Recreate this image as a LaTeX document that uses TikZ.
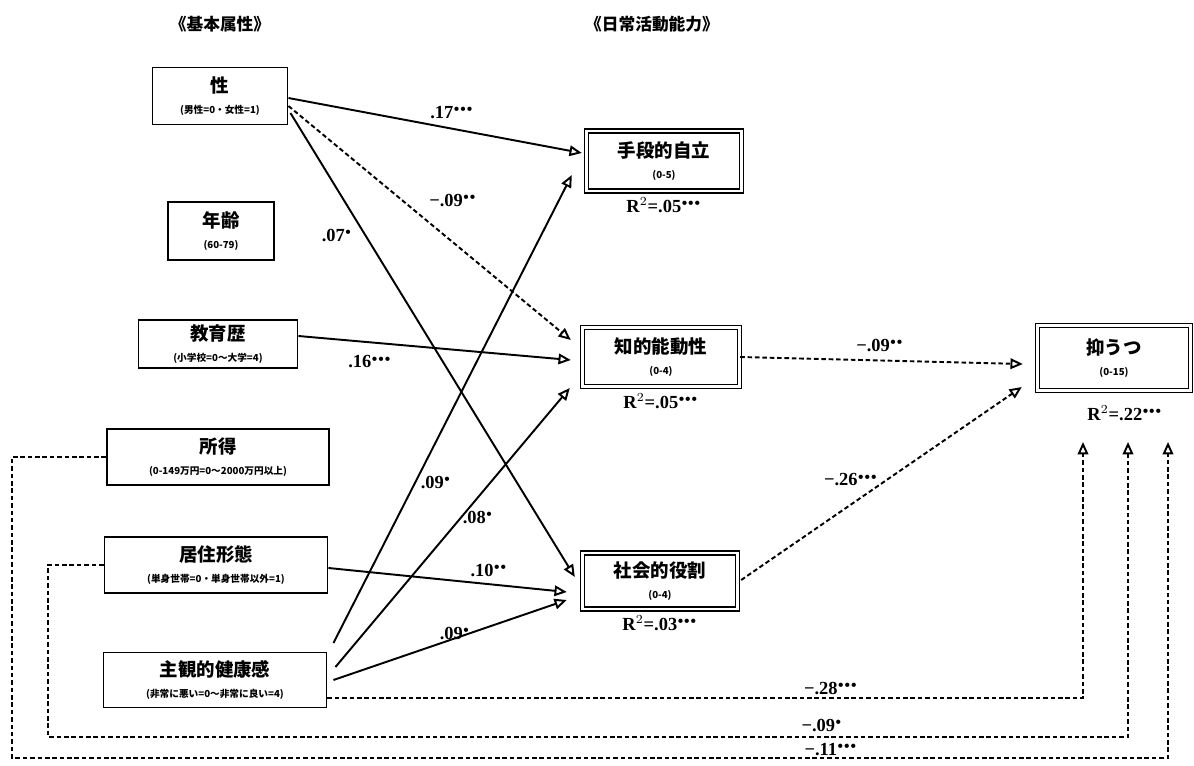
\documentclass[tikz,border=0pt]{standalone}
\usepackage{fontspec}
\setmainfont{Liberation Serif}
\newfontfamily\jp{Noto Sans CJK JP}
\usetikzlibrary{arrows.meta,calc}

\tikzstyle{attr} = [rectangle, draw=black, line width=1.1pt, align=center, inner sep=1pt, font=\jp]
\tikzstyle{adl} = [rectangle, draw=black, double, double distance=1.6pt, line width=0.8pt, align=center, inner sep=1pt, font=\jp]
\tikzstyle{arrow} = [line width=1.1pt, ->, >={Triangle[open,length=7pt,width=6pt]}]
\tikzstyle{darrow} = [arrow, dash pattern=on 2.6pt off 1.6pt]
\tikzstyle{coef} = [font=\bfseries\fontsize{10.5}{12}\selectfont, inner sep=0pt]
\tikzstyle{heading} = [font=\jp\bfseries\fontsize{9.5}{11}\selectfont]

\newcommand{\lab}[1]{{\bfseries\fontsize{10.5}{13}\selectfont #1}}
\newcommand{\rng}[1]{{\bfseries\fontsize{5.5}{6.5}\selectfont #1}}
\newcommand{\ps}{$^{\scriptscriptstyle\bullet}$}
\newcommand{\pss}{$^{\scriptscriptstyle\bullet\bullet}$}
\newcommand{\psss}{$^{\scriptscriptstyle\bullet\bullet\bullet}$}

\begin{document}
\begin{tikzpicture}[x={(0.02cm,0)}, y={(0,-0.02cm)}]
\useasboundingbox (0,0) rectangle (1194,765);

% headings
\node (hbase) [heading] at (220,24) {《基本属性》};
\node (hadl) [heading] at (652,24) {《日常活動能力》};

% basic attributes
\node (sex) [attr, minimum width=2.7cm, minimum height=1.14cm] at (220,96) {\lab{性}\\\rng{(男性=0・女性=1)}};
\node (age) [attr, minimum width=2.12cm, minimum height=1.16cm] at (221,231) {\lab{年齢}\\\rng{(60-79)}};
\node (edu) [attr, minimum width=3.18cm, minimum height=0.96cm] at (218,344) {\lab{教育歴}\\\rng{(小学校=0〜大学=4)}};
\node (inc) [attr, minimum width=4.44cm, minimum height=1.12cm] at (218,457) {\lab{所得}\\\rng{(0-149万円=0〜2000万円以上)}};
\node (res) [attr, minimum width=4.46cm, minimum height=1.12cm] at (216,565) {\lab{居住形態}\\\rng{(単身世帯=0・単身世帯以外=1)}};
\node (hlth) [attr, minimum width=4.46cm, minimum height=1.1cm] at (215,680) {\lab{主観的健康感}\\\rng{(非常に悪い=0〜非常に良い=4)}};

% daily activities
\node (iadl) [adl, minimum width=3.1cm, minimum height=1.2cm] at (664,161) {\lab{手段的自立}\\\rng{(0-5)}};
\node (intel) [adl, minimum width=3.14cm, minimum height=1.18cm] at (661,357) {\lab{知的能動性}\\\rng{(0-4)}};
\node (social) [adl, minimum width=3.1cm, minimum height=1.12cm] at (660,581) {\lab{社会的役割}\\\rng{(0-4)}};
\node (dep) [adl, minimum width=3.06cm, minimum height=1.3cm] at (1114,358) {\lab{抑うつ}\\\rng{(0-15)}};

\node (iadlR) [coef] at (664,205) {R$^2$=.05\psss};
\node (intelR) [coef] at (661,401) {R$^2$=.05\psss};
\node (socialR) [coef] at (660,623) {R$^2$=.03\psss};
\node (depR) [coef] at (1125,413) {R$^2$=.22\psss};

\coordinate (t1) at (1083,442);
\coordinate (t2) at (1128,442);
\coordinate (t3) at (1168,442);
\coordinate (c2) at (48,737);
\coordinate (c3) at (12,758);

% paths
\draw [arrow] ($(sex.east)+(0,2)$) -- ($(iadl.west)+(-4,-8)$);
\draw [darrow] ($(sex.east)+(0,10)$) -- ($(intel.west)+(-11,-17)$);
\draw [arrow] ($(sex.east)+(2,17)$) -- ($(social.west)+(-7,-4)$);
\draw [arrow] ($(edu.east)+(0,-8)$) -- ($(intel.west)+(-11,3)$);
\draw [arrow] ($(res.east)+(0,3)$) -- ($(social.west)+(-15,11)$);
\draw [arrow] ($(hlth.east)+(6,-37)$) -- ($(iadl.west)+(-14,14)$);
\draw [arrow] ($(hlth.east)+(8,-13)$) -- ($(intel.west)+(-12,31)$);
\draw [arrow] ($(hlth.east)+(6,0)$) -- ($(social.west)+(-15,19)$);
\draw [darrow] (intel.east) -- ($(dep.west)+(-14,6)$);
\draw [darrow] ($(social.east)+(3,-1)$) -- ($(dep.west)+(-15,29)$);
\draw [darrow] ($(hlth.east)+(0,18)$) -| (t1);
\draw [darrow] (res.west) -| (c2) -| (t2);
\draw [darrow] (inc.west) -| (c3) -| (t3);

% coefficients
\node (b1) [coef] at (452,113) {.17\psss};
\node (b2) [coef] at (453,200) {−.09\pss};
\node (b3) [coef] at (337,235) {.07\ps};
\node (b4) [coef] at (370,362) {.16\psss};
\node (b5) [coef] at (489,570) {.10\pss};
\node (b6) [coef] at (436,482) {.09\ps};
\node (b7) [coef] at (478,517) {.08\ps};
\node (b8) [coef] at (455,633) {.09\ps};
\node (b9) [coef] at (880,345) {−.09\pss};
\node (b10) [coef] at (851,480) {−.26\psss};
\node (b11) [coef] at (831,688) {−.28\psss};
\node (b12) [coef] at (822,725) {−.09\ps};
\node (b13) [coef] at (831,750) {−.11\psss};

\end{tikzpicture}
\end{document}
